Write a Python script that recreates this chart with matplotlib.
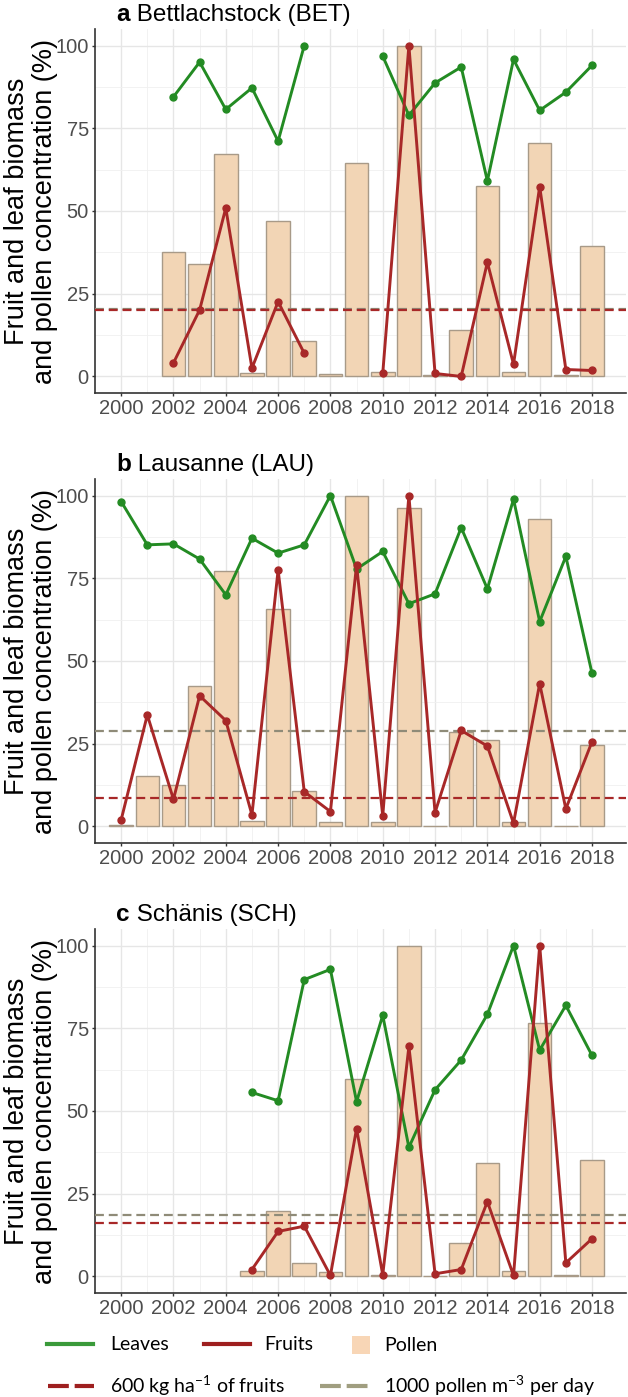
import numpy as np
import matplotlib
matplotlib.use("Agg")
import matplotlib.pyplot as plt
from matplotlib.lines import Line2D
from matplotlib.patches import Patch

plt.rcParams['font.family'] = ['Liberation Sans', 'DejaVu Sans']
plt.rcParams['mathtext.fontset'] = 'custom'
plt.rcParams['mathtext.rm'] = 'Lato'
plt.rcParams['mathtext.it'] = 'Lato:italic'
plt.rcParams['mathtext.bf'] = 'Lato:bold'

nan = np.nan
years = np.arange(2000, 2019)

# a Bettlachstock
leaves_bet = [nan, nan, 84.5, 95.0, 80.7, 87.2, 71.1, 100.0, nan, nan,
              96.8, 78.9, 88.7, 93.5, 59.1, 95.8, 80.4, 85.9, 94.0]
fruits_bet = [nan, nan, 4.1, 20.1, 50.9, 2.5, 22.6, 7.0, nan, nan,
              0.9, 100.0, 0.9, 0.0, 34.5, 3.7, 57.4, 2.1, 1.8]
pollen_bet = [nan, nan, 37.7, 34.1, 67.1, 1.0, 46.9, 10.6, 0.6, 64.6,
              1.3, 100.0, 0.3, 13.9, 57.6, 1.3, 70.7, 0.3, 39.5]

# b Lausanne
leaves_lau = [98.2, 85.1, 85.4, 80.8, 70.0, 87.1, 82.6, 85.1, 100.0, 77.8,
              83.1, 67.3, 70.3, 90.3, 71.8, 98.9, 61.9, 81.6, 46.3]
fruits_lau = [2.0, 33.7, 8.2, 39.5, 32.0, 3.5, 77.5, 10.5, 4.5, 79.0,
              3.2, 100.0, 4.2, 29.0, 24.3, 1.0, 43.2, 5.3, 25.6]
pollen_lau = [0.3, 15.3, 12.6, 42.3, 77.2, 1.7, 65.6, 10.7, 1.3, 100.0,
              1.3, 96.2, 0.1, 28.4, 26.1, 1.3, 92.9, 0.1, 24.6]

# c Schänis
leaves_sch = [nan, nan, nan, nan, nan, 55.6, 53.1, 89.7, 92.8, 52.8,
              78.9, 39.0, 56.4, 65.4, 79.2, 100.0, 68.4, 81.9, 66.8]
fruits_sch = [nan, nan, nan, nan, nan, 2.1, 13.6, 15.2, 0.3, 44.7,
              0.5, 69.5, 0.8, 2.1, 22.6, 0.3, 100.0, 4.1, 11.4]
pollen_sch = [nan, nan, nan, nan, nan, 1.5, 19.9, 4.1, 1.3, 59.6,
              0.3, 100.0, 0.1, 10.2, 34.3, 1.5, 76.5, 0.3, 35.3]

# thresholds (600 kg/ha fruits, 1000 pollen/m3/day)
fruit_thr = [20.1, 8.6, 16.2]
pollen_thr = [20.5, 28.9, 18.7]

letters = ["a", "b", "c"]
names = ["Bettlachstock (BET)", "Lausanne (LAU)", "Schänis (SCH)"]
leaves = [leaves_bet, leaves_lau, leaves_sch]
fruits = [fruits_bet, fruits_lau, fruits_sch]
pollen = [pollen_bet, pollen_lau, pollen_sch]

GREEN = "#238B23"
RED = "#A82828"
GREY = "#8F8B78"
POLLEN = "#F2D5B5"
EDGE = "#A89A88"

fig = plt.figure(figsize=(6.28, 13.97), dpi=100)
W, H = 628.0, 1397.0

rects = [(95, 29, 393), (95, 479, 843), (95, 929, 1293)]
title_base = [20.7, 471, 920.7]

for i in range(3):
    x0, top, bot = rects[i]
    ax = fig.add_axes([x0 / W, 1 - bot / H, (626 - x0) / W, (bot - top) / H])
    ax.bar(years, pollen[i], width=0.9, color=POLLEN, edgecolor=EDGE,
           linewidth=1.0, zorder=2)
    ax.axhline(pollen_thr[i], color=GREY, ls=(0, (4, 2.2)), lw=1.6, zorder=3)
    ax.axhline(fruit_thr[i], color=RED, ls=(0, (4, 2.2)), lw=1.6, zorder=3)
    ax.plot(years, leaves[i], color=GREEN, lw=2.1, marker='o', ms=5, zorder=4)
    ax.plot(years, fruits[i], color=RED, lw=2.1, marker='o', ms=5, zorder=5)

    ax.set_xlim(1999.0, 2019.3)
    ax.set_ylim(-5, 105)
    ax.set_xticks(range(2000, 2019, 2))
    ax.set_xticks(range(2001, 2019, 2), minor=True)
    ax.set_yticks([0, 25, 50, 75, 100])
    ax.set_yticks([12.5, 37.5, 62.5, 87.5], minor=True)
    ax.grid(which='major', color='#E6E6E6', lw=1.0)
    ax.grid(which='minor', color='#F0F0F0', lw=0.6)
    ax.set_axisbelow(True)
    for s in ['top', 'right']:
        ax.spines[s].set_visible(False)
    for s in ['left', 'bottom']:
        ax.spines[s].set_color('#333333')
        ax.spines[s].set_linewidth(1.2)
    ax.tick_params(which='major', length=2.5, width=1, color='#333333',
                   labelsize=14.5, labelcolor='#4D4D4D', pad=2)
    ax.tick_params(which='minor', length=0)

    yc = 1 - (top + bot) / 2 / H
    fig.text(31 / W, yc, "Fruit and leaf biomass\nand pollen concentration (%)",
             rotation=90, ha='center', va='center', fontsize=19.5,
             linespacing=1.1, multialignment='center')

    t = fig.text(116 / W, 1 - title_base[i] / H, letters[i], fontsize=17.5,
                 fontweight='bold', va='baseline')
    ax.annotate(" " + names[i], xy=(1, 0), xycoords=t, va='bottom',
                ha='left', fontsize=17.5)

leg_font = {'family': 'Lato', 'size': 14}


def legend_item(handle, label, x, y, hl, pad, hh=0.7):
    fig.legend([handle], [label], loc='center left', bbox_to_anchor=(x / W, 1 - y / H),
               frameon=False, borderpad=0, borderaxespad=0, handlelength=hl,
               handleheight=hh, handletextpad=pad, prop=leg_font)


legend_item(Line2D([], [], color="#3A9A3A", lw=3), "Leaves", 47, 1345, 2.37, 0.87)
legend_item(Line2D([], [], color="#9E1F1F", lw=3), "Fruits", 204, 1345, 2.37, 0.72)
legend_item(Patch(facecolor="#F8D6B6", edgecolor='none'), "Pollen", 352, 1345, 0.93, 0.72, hh=1.05)
legend_item(Line2D([], [], color="#9E1F1F", lw=3, ls=(0, (5, 1.4))),
            r"600 kg ha$^{-1}$ of fruits", 48, 1386, 2.37, 0.82)
legend_item(Line2D([], [], color="#A09E80", lw=3, ls=(0, (5, 1.4))),
            r"1000 pollen m$^{-3}$ per day", 320, 1386, 2.47, 0.82)

fig.savefig("out.png", dpi=100)
